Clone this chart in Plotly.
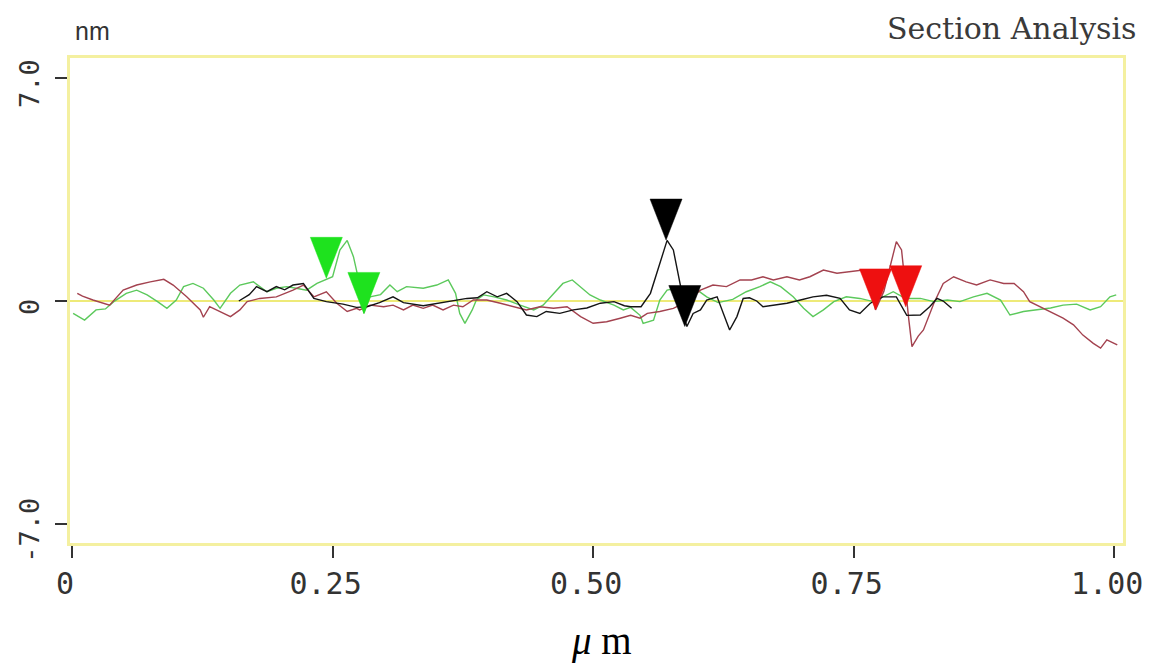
import plotly.graph_objects as go

# ---------------- data ----------------
green_x = [0.001, 0.012, 0.023, 0.032, 0.040, 0.052, 0.062, 0.072, 0.082, 0.091, 0.100, 0.107, 0.116, 0.126,
           0.136, 0.142, 0.152, 0.161, 0.174, 0.187, 0.196, 0.206, 0.215, 0.225, 0.235, 0.244, 0.250, 0.257,
           0.264, 0.270, 0.275, 0.278, 0.280, 0.286, 0.296, 0.305, 0.312, 0.321, 0.337, 0.350, 0.361, 0.368,
           0.372, 0.377, 0.384, 0.388, 0.395, 0.405, 0.417, 0.430, 0.443, 0.452, 0.462, 0.471, 0.480, 0.486,
           0.497, 0.507, 0.520, 0.529, 0.536, 0.545, 0.548, 0.558, 0.564, 0.571, 0.580, 0.590, 0.600, 0.609,
           0.620, 0.634, 0.647, 0.660, 0.670, 0.680, 0.692, 0.702, 0.711, 0.721, 0.731, 0.743, 0.756, 0.769,
           0.782, 0.788, 0.797, 0.801, 0.814, 0.827, 0.840, 0.852, 0.865, 0.878, 0.891, 0.900, 0.913, 0.926,
           0.939, 0.951, 0.964, 0.977, 0.987, 0.996, 1.002]
green_y = [-0.39, -0.60, -0.28, -0.25, -0.02, 0.24, 0.34, 0.19, -0.02, -0.23, 0.03, 0.45, 0.55, 0.40,
           0.03, -0.23, 0.24, 0.50, 0.60, 0.29, 0.40, 0.45, 0.40, 0.34, 0.55, 0.68, 0.76, 1.60,
           1.90, 1.39, 0.66, 0.10, -0.39, 0.13, 0.20, 0.50, 0.29, 0.45, 0.40, 0.50, 0.66, 0.24,
           -0.39, -0.70, -0.28, 0.03, 0.19, 0.13, 0.03, -0.13, -0.28, -0.13, 0.24, 0.55, 0.66, 0.50,
           0.19, 0.03, -0.13, -0.28, -0.20, -0.45, -0.70, -0.60, 0.03, 0.34, 0.40, 0.24, 0.34, 0.13,
           -0.05, 0.05, 0.29, 0.45, 0.60, 0.45, 0.13, -0.23, -0.49, -0.28, -0.02, 0.13, 0.08, -0.02,
           0.19, 0.29, 0.13, 0.08, 0.08, -0.02, 0.03, -0.02, 0.13, 0.24, 0.03, -0.44, -0.33, -0.28,
           -0.22, -0.13, -0.10, -0.28, -0.18, 0.13, 0.19]

red_x = [0.005, 0.010, 0.020, 0.028, 0.036, 0.049, 0.062, 0.075, 0.088, 0.097, 0.110, 0.123, 0.126, 0.132,
         0.142, 0.152, 0.161, 0.168, 0.180, 0.196, 0.212, 0.222, 0.232, 0.244, 0.254, 0.264, 0.273, 0.276,
         0.286, 0.299, 0.308, 0.318, 0.327, 0.337, 0.346, 0.356, 0.366, 0.375, 0.385, 0.398, 0.411, 0.424,
         0.436, 0.449, 0.462, 0.475, 0.488, 0.500, 0.513, 0.526, 0.536, 0.545, 0.552, 0.564, 0.577, 0.590,
         0.603, 0.615, 0.628, 0.641, 0.652, 0.663, 0.673, 0.686, 0.698, 0.708, 0.721, 0.734, 0.750, 0.759,
         0.766, 0.771, 0.779, 0.785, 0.791, 0.796, 0.800, 0.803, 0.806, 0.812, 0.817, 0.827, 0.836, 0.846,
         0.858, 0.868, 0.881, 0.894, 0.904, 0.913, 0.919, 0.929, 0.939, 0.951, 0.961, 0.970, 0.980, 0.987,
         0.993, 1.000, 1.003]
red_y = [0.24, 0.15, 0.03, -0.05, -0.13, 0.34, 0.50, 0.60, 0.68, 0.50, 0.13, -0.28, -0.51, -0.18,
         -0.33, -0.49, -0.28, -0.02, 0.08, 0.13, 0.34, 0.50, 0.13, 0.29, -0.07, -0.33, -0.23, -0.28,
         -0.13, -0.18, -0.13, -0.28, -0.13, -0.23, -0.13, -0.28, -0.13, -0.18, 0.03, 0.03, -0.07, -0.18,
         -0.28, -0.18, -0.23, -0.18, -0.49, -0.70, -0.65, -0.54, -0.45, -0.54, -0.39, -0.33, -0.23, -0.02,
         0.34, 0.50, 0.45, 0.66, 0.66, 0.76, 0.66, 0.76, 0.66, 0.76, 0.97, 0.87, 0.92, 0.97,
         0.50, -0.28, 0.30, 1.08, 1.86, 1.60, 0.20, -0.60, -1.43, -1.10, -0.91, -0.07, 0.55, 0.76,
         0.60, 0.50, 0.66, 0.55, 0.55, 0.29, -0.02, -0.18, -0.33, -0.54, -0.75, -1.07, -1.33, -1.48,
         -1.22, -1.33, -1.38]

black_x = [0.160, 0.170, 0.177, 0.187, 0.196, 0.204, 0.212, 0.222, 0.232, 0.244, 0.260, 0.273, 0.283,
           0.295, 0.308, 0.318, 0.337, 0.356, 0.366, 0.379, 0.389, 0.398, 0.408, 0.417, 0.427, 0.436,
           0.446, 0.455, 0.468, 0.481, 0.494, 0.507, 0.520, 0.530, 0.536, 0.546, 0.555, 0.561, 0.567,
           0.571, 0.577, 0.580, 0.584, 0.587, 0.590, 0.596, 0.603, 0.609, 0.619, 0.625, 0.631, 0.638,
           0.644, 0.650, 0.657, 0.663, 0.674, 0.686, 0.699, 0.711, 0.724, 0.737, 0.746, 0.756, 0.766,
           0.778, 0.791, 0.801, 0.814, 0.823, 0.830, 0.836, 0.844]
black_y = [0.00, 0.20, 0.45, 0.29, 0.45, 0.35, 0.50, 0.55, 0.08, -0.02, -0.10, -0.20, -0.18,
           -0.05, 0.13, -0.05, -0.15, -0.05, 0.00, 0.08, 0.10, 0.29, 0.13, 0.24, -0.02, -0.44,
           -0.49, -0.33, -0.39, -0.28, -0.22, -0.07, -0.02, -0.15, -0.18, -0.18, 0.24, 0.87, 1.50,
           1.90, 1.60, 1.08, 0.45, -0.49, -0.80, -0.39, -0.28, 0.03, 0.13, -0.39, -0.91, -0.49,
           0.08, 0.10, 0.00, -0.18, -0.12, -0.07, 0.03, 0.13, 0.18, 0.08, -0.28, -0.39, -0.07,
           0.13, 0.13, -0.45, -0.44, -0.18, 0.08, 0.00, -0.23]

# cursor markers (tip positions)
green_mark_x = [0.244, 0.280]
green_mark_y = [0.71, -0.39]
black_mark_x = [0.570, 0.588]
black_mark_y = [1.91, -0.80]
red_mark_x = [0.771, 0.800]
red_mark_y = [-0.28, -0.18]

x_tick_vals = [0, 0.25, 0.5, 0.75, 1.0]
x_tick_text = ["0", "0.25", "0.50", "0.75", "1.00"]
y_tick_vals = [-7, 0, 7]
y_tick_text = ["-7.0", "0", "7.0"]

# ---------------- layout geometry ----------------
W, H = 1153, 664
ML, MR, MT, MB = 70, 30, 58, 121
x_range = [-0.002, 1.0085]
y_range = [-7.59, 7.62]
px_per_x = (W - ML - MR) / (x_range[1] - x_range[0])
px_per_y = (H - MT - MB) / (y_range[1] - y_range[0])

TRI_W_PX, TRI_H_PX = 32, 41


def triangles(xs, ys):
    tx, ty = [], []
    hw = TRI_W_PX / 2 / px_per_x
    hh = TRI_H_PX / px_per_y
    for x, y in zip(xs, ys):
        tx += [x, x - hw, x + hw, x, None]
        ty += [y, y + hh, y + hh, y, None]
    return tx, ty


fig = go.Figure()

fig.add_trace(go.Scatter(x=green_x, y=green_y, mode="lines",
                         line=dict(color="#5cc95c", width=1.4), hoverinfo="skip"))
fig.add_trace(go.Scatter(x=red_x, y=red_y, mode="lines",
                         line=dict(color="#a3424f", width=1.4), hoverinfo="skip"))
fig.add_trace(go.Scatter(x=black_x, y=black_y, mode="lines",
                         line=dict(color="#151515", width=1.4), hoverinfo="skip"))

for xs, ys, col in [(green_mark_x, green_mark_y, "#1ee21e"),
                    (black_mark_x, black_mark_y, "#000000"),
                    (red_mark_x, red_mark_y, "#ee1010")]:
    tx, ty = triangles(xs, ys)
    fig.add_trace(go.Scatter(x=tx, y=ty, mode="lines", fill="toself", fillcolor=col,
                             line=dict(color=col, width=0.5), hoverinfo="skip"))

fig.update_layout(
    width=W, height=H,
    margin=dict(l=ML, r=MR, t=MT, b=MB, pad=0, autoexpand=False),
    paper_bgcolor="white", plot_bgcolor="white",
    showlegend=False,
    xaxis=dict(range=x_range, tickmode="array", tickvals=x_tick_vals, ticktext=x_tick_text,
               ticks="outside", ticklen=12, tickwidth=2, tickcolor="#333333", automargin=False,
               ticklabelshift=-7,
               showgrid=False, zeroline=False,
               showline=True, mirror=True, linecolor="#f4f0a0", linewidth=3,
               tickfont=dict(family="DejaVu Sans Mono", size=30, color="#333333")),
    yaxis=dict(range=y_range, tickmode="array", tickvals=y_tick_vals, ticktext=y_tick_text,
               ticks="outside", ticklen=12, tickwidth=2, tickcolor="#333333", tickangle=-90,
               automargin=False, ticklabelshift=10, ticklabelstandoff=5,
               showgrid=False, zeroline=True, zerolinecolor="#eeea78", zerolinewidth=2,
               showline=True, mirror=True, linecolor="#f4f0a0", linewidth=3,
               tickfont=dict(family="DejaVu Sans Mono", size=27, color="#333333")),
    annotations=[
        dict(text="nm", x=(73 - ML) / (W - ML - MR), y=(H - MB - 31) / (H - MT - MB),
             xref="paper", yref="paper", xanchor="left", yanchor="middle", showarrow=False,
             font=dict(family="Liberation Sans", size=25, color="#333333")),
        dict(text="Section Analysis", x=(1138 - ML) / (W - ML - MR), y=(H - MB - 29) / (H - MT - MB),
             xref="paper", yref="paper", xanchor="right", yanchor="middle", showarrow=False,
             font=dict(family="DejaVu Serif", size=30, color="#3a3a3a")),
        dict(text="<i>μ</i> m", x=(601 - ML) / (W - ML - MR), y=(H - MB - 641) / (H - MT - MB),
             xref="paper", yref="paper", xanchor="center", yanchor="middle", showarrow=False,
             font=dict(family="Liberation Serif", size=39, color="#000000")),
    ],
)

fig.write_html("out.html")
